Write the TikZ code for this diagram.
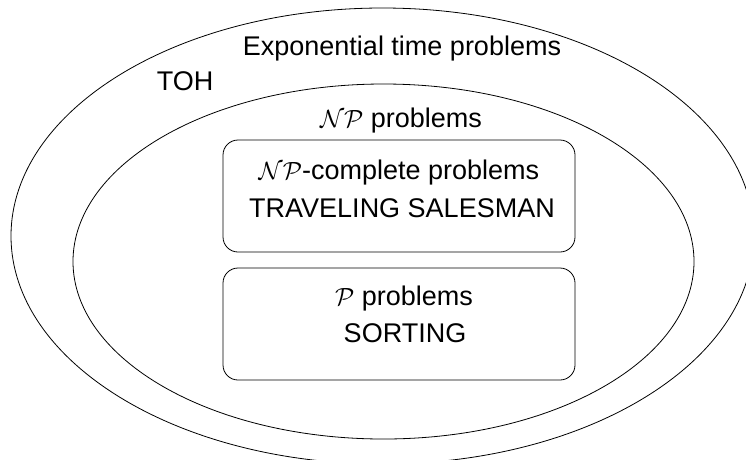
\documentclass[tikz,border=0pt]{standalone}
\usepackage{fontspec}
\setmainfont{Liberation Sans}
\usetikzlibrary{shapes.geometric}
\tikzset{
  region/.style={draw, ellipse, inner sep=0pt, line width=0.8pt},
  classbox/.style={draw, rectangle, rounded corners=15pt, inner sep=0pt,
    minimum width=352pt, minimum height=112pt, line width=0.8pt},
  lbl/.style={anchor=base, inner sep=0pt, font=\fontsize{27}{32}\selectfont}
}
\begin{document}
\begin{tikzpicture}[x=1pt,y=-1pt]
\useasboundingbox (0,0) rectangle (746,459);
\clip (0,0) rectangle (746,459);
\node[region, minimum width=743pt, minimum height=456pt] (exp) at (382.5,236) {};
\node[region, minimum width=621pt, minimum height=355pt] (np) at (383.5,261.5) {};
\node[classbox] (npc) at (399,196) {};
\node[classbox] (p) at (399,324) {};
\node[lbl] (explbl) at (402,55.5) {Exponential time problems};
\node[lbl] (toh) at (185,90.5) {TOH};
\node[lbl] (nplbl) at (401,127) {$\mathcal{NP}$ problems};
\node[lbl] (npclbl) at (399,179) {$\mathcal{NP}$-complete problems};
\node[lbl] (tsp) at (402,217) {TRAVELING SALESMAN};
\node[lbl] (plbl) at (404,305) {$\mathcal{P}$ problems};
\node[lbl] (sort) at (405,342) {SORTING};
\end{tikzpicture}
\end{document}
